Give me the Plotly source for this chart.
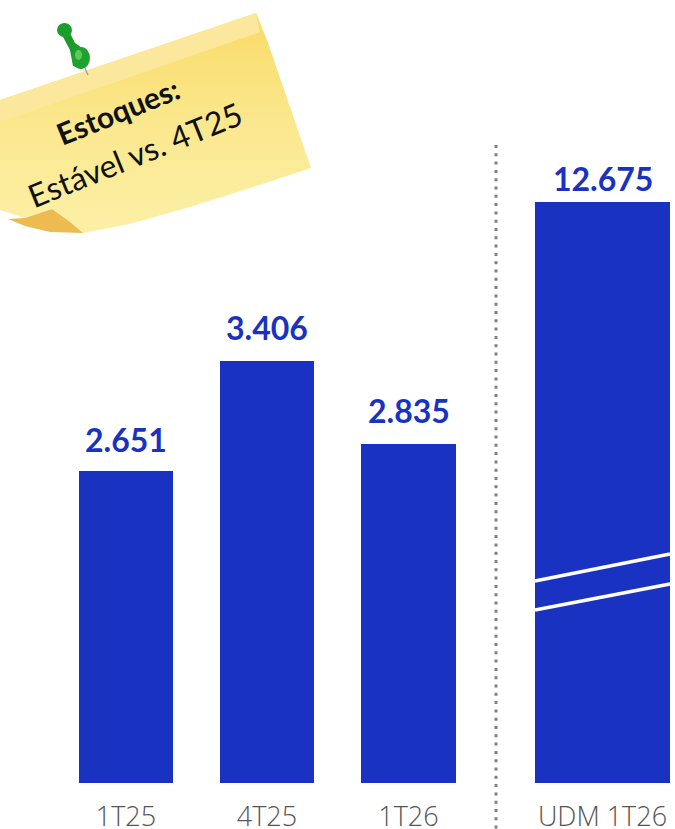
import plotly.graph_objects as go

# Data
categories = ["1T25", "4T25", "1T26", "UDM 1T26"]
values = [2651, 3406, 2835, 12675]
value_labels = ["2.651", "3.406", "2.835", "12.675"]
# heights as drawn in the source chart (its last bar has a broken axis)
drawn_heights = [2651, 3585, 2880, 4936]
slot_centers = [126, 267, 408.5, 602.5]
slot_widths = [94, 94, 95, 135]
label_shifts = [10, 12, 12, 2]

W, H, BASE = 675, 829, 783
K = 0.1177
BLUE = "#1932C1"

def py(p):
    return (BASE - p) / K

def pp(p):
    return (BASE - p) / BASE

fig = go.Figure()

# Sticky note body
nx = [0, 256, 267, 311, 250, 190, 130, 83, 70, 52, 25, 0, 0]
ny = [100, 13, 40, 168, 188, 207, 224, 233, 222, 209, 218, 210, 100]
fig.add_trace(go.Scatter(
    x=nx, y=[py(v) for v in ny], mode="lines", line=dict(width=0), fill="toself",
    fillgradient=dict(type="vertical", start=py(20), stop=py(230),
                      colorscale=[[0, "#F9DB68"], [0.5, "#FBE88E"], [1, "#FCF0A6"]]),
    hoverinfo="skip", showlegend=False))
# Lighter band along the top edge
bx = [0, 256, 260, 0, 0]
by = [100, 13, 32, 122, 100]
fig.add_trace(go.Scatter(
    x=bx, y=[py(v) for v in by], mode="lines", line=dict(width=0), fill="toself",
    fillcolor="#FBE89C", hoverinfo="skip", showlegend=False))

# Bars
fig.add_trace(go.Bar(
    x=slot_centers, y=drawn_heights, width=slot_widths, marker=dict(color=BLUE, line=dict(width=0)),
    customdata=values, hoverinfo="skip", showlegend=False))

def line(x0, y0, x1, y1, color, width, dash=None):
    d = dict(color=color, width=width)
    if dash:
        d["dash"] = dash
    return dict(type="line", xref="x", yref="paper", x0=x0, x1=x1, y0=pp(y0), y1=pp(y1),
                line=d, layer="above")

def path(points, color):
    s = "M " + " L ".join(f"{x},{py(y)}" for x, y in points) + " Z"
    return dict(type="path", xref="x", yref="y", path=s, fillcolor=color,
                line=dict(width=0), layer="above")

def ell(x0, y0, x1, y1, color):
    return dict(type="circle", xref="x", yref="y", x0=x0, x1=x1, y0=py(y0), y1=py(y1),
                fillcolor=color, line=dict(width=0), layer="above")

shapes = [
    line(496, 145, 496, 829, "#808080", 3, "3px,5.3px"),
    line(535, 581, 670, 554, "white", 3.5),
    line(535, 610, 670, 584, "white", 3.5),
    # note curl
    path([(8, 219), (25, 218), (52, 209), (70, 222), (83, 233), (50, 232), (25, 226)], "#EDBB50"),
    # pin needle
    line(84, 66, 88, 75, "#9A9A9A", 1.2),
    # pin
    path([(62, 35), (70, 33), (75, 43), (88, 52), (89, 62), (82, 69), (73, 66), (70, 50)], "#1C9A2A"),
    ell(57, 23, 72, 37, "#1A9E2C"),
    ell(72, 47, 90, 69, "#1FA12F"),
    ell(75, 50, 82, 60, "#5CCB55"),
]

annotations = [
    dict(x=117, y=py(111), xref="x", yref="y", text="<b>Estoques:</b>", textangle=-22,
         showarrow=False, font=dict(family="Lato", size=30, color="#111111")),
    dict(x=134, y=py(154), xref="x", yref="y", text="Estável vs. 4T25", textangle=-22,
         showarrow=False, font=dict(family="Lato", size=32, color="#111111")),
]
for cx, h, lab, sh in zip(slot_centers, drawn_heights, value_labels, label_shifts):
    annotations.append(dict(x=cx, y=h, xref="x", yref="y", text=lab, showarrow=False,
                            yanchor="bottom", yshift=sh,
                            font=dict(family="Lato", size=32, color=BLUE, weight=700)))

fig.update_layout(
    width=W, height=H, margin=dict(l=0, r=0, t=0, b=H - BASE, autoexpand=False),
    paper_bgcolor="white", plot_bgcolor="white", showlegend=False,
    shapes=shapes, annotations=annotations,
    xaxis=dict(range=[0, W], tickmode="array", tickvals=slot_centers, ticktext=categories,
               showgrid=False, zeroline=False, showline=False, ticks="outside", ticklen=10,
               automargin=False, tickcolor="rgba(0,0,0,0)",
               tickfont=dict(family="Open Sans", size=27, color="#555555", weight=300)),
    yaxis=dict(range=[0, BASE / K], visible=False, showgrid=False, zeroline=False),
)

fig.write_html("out.html", config=dict(displayModeBar=False),
               post_script="document.body.style.margin='0';")
